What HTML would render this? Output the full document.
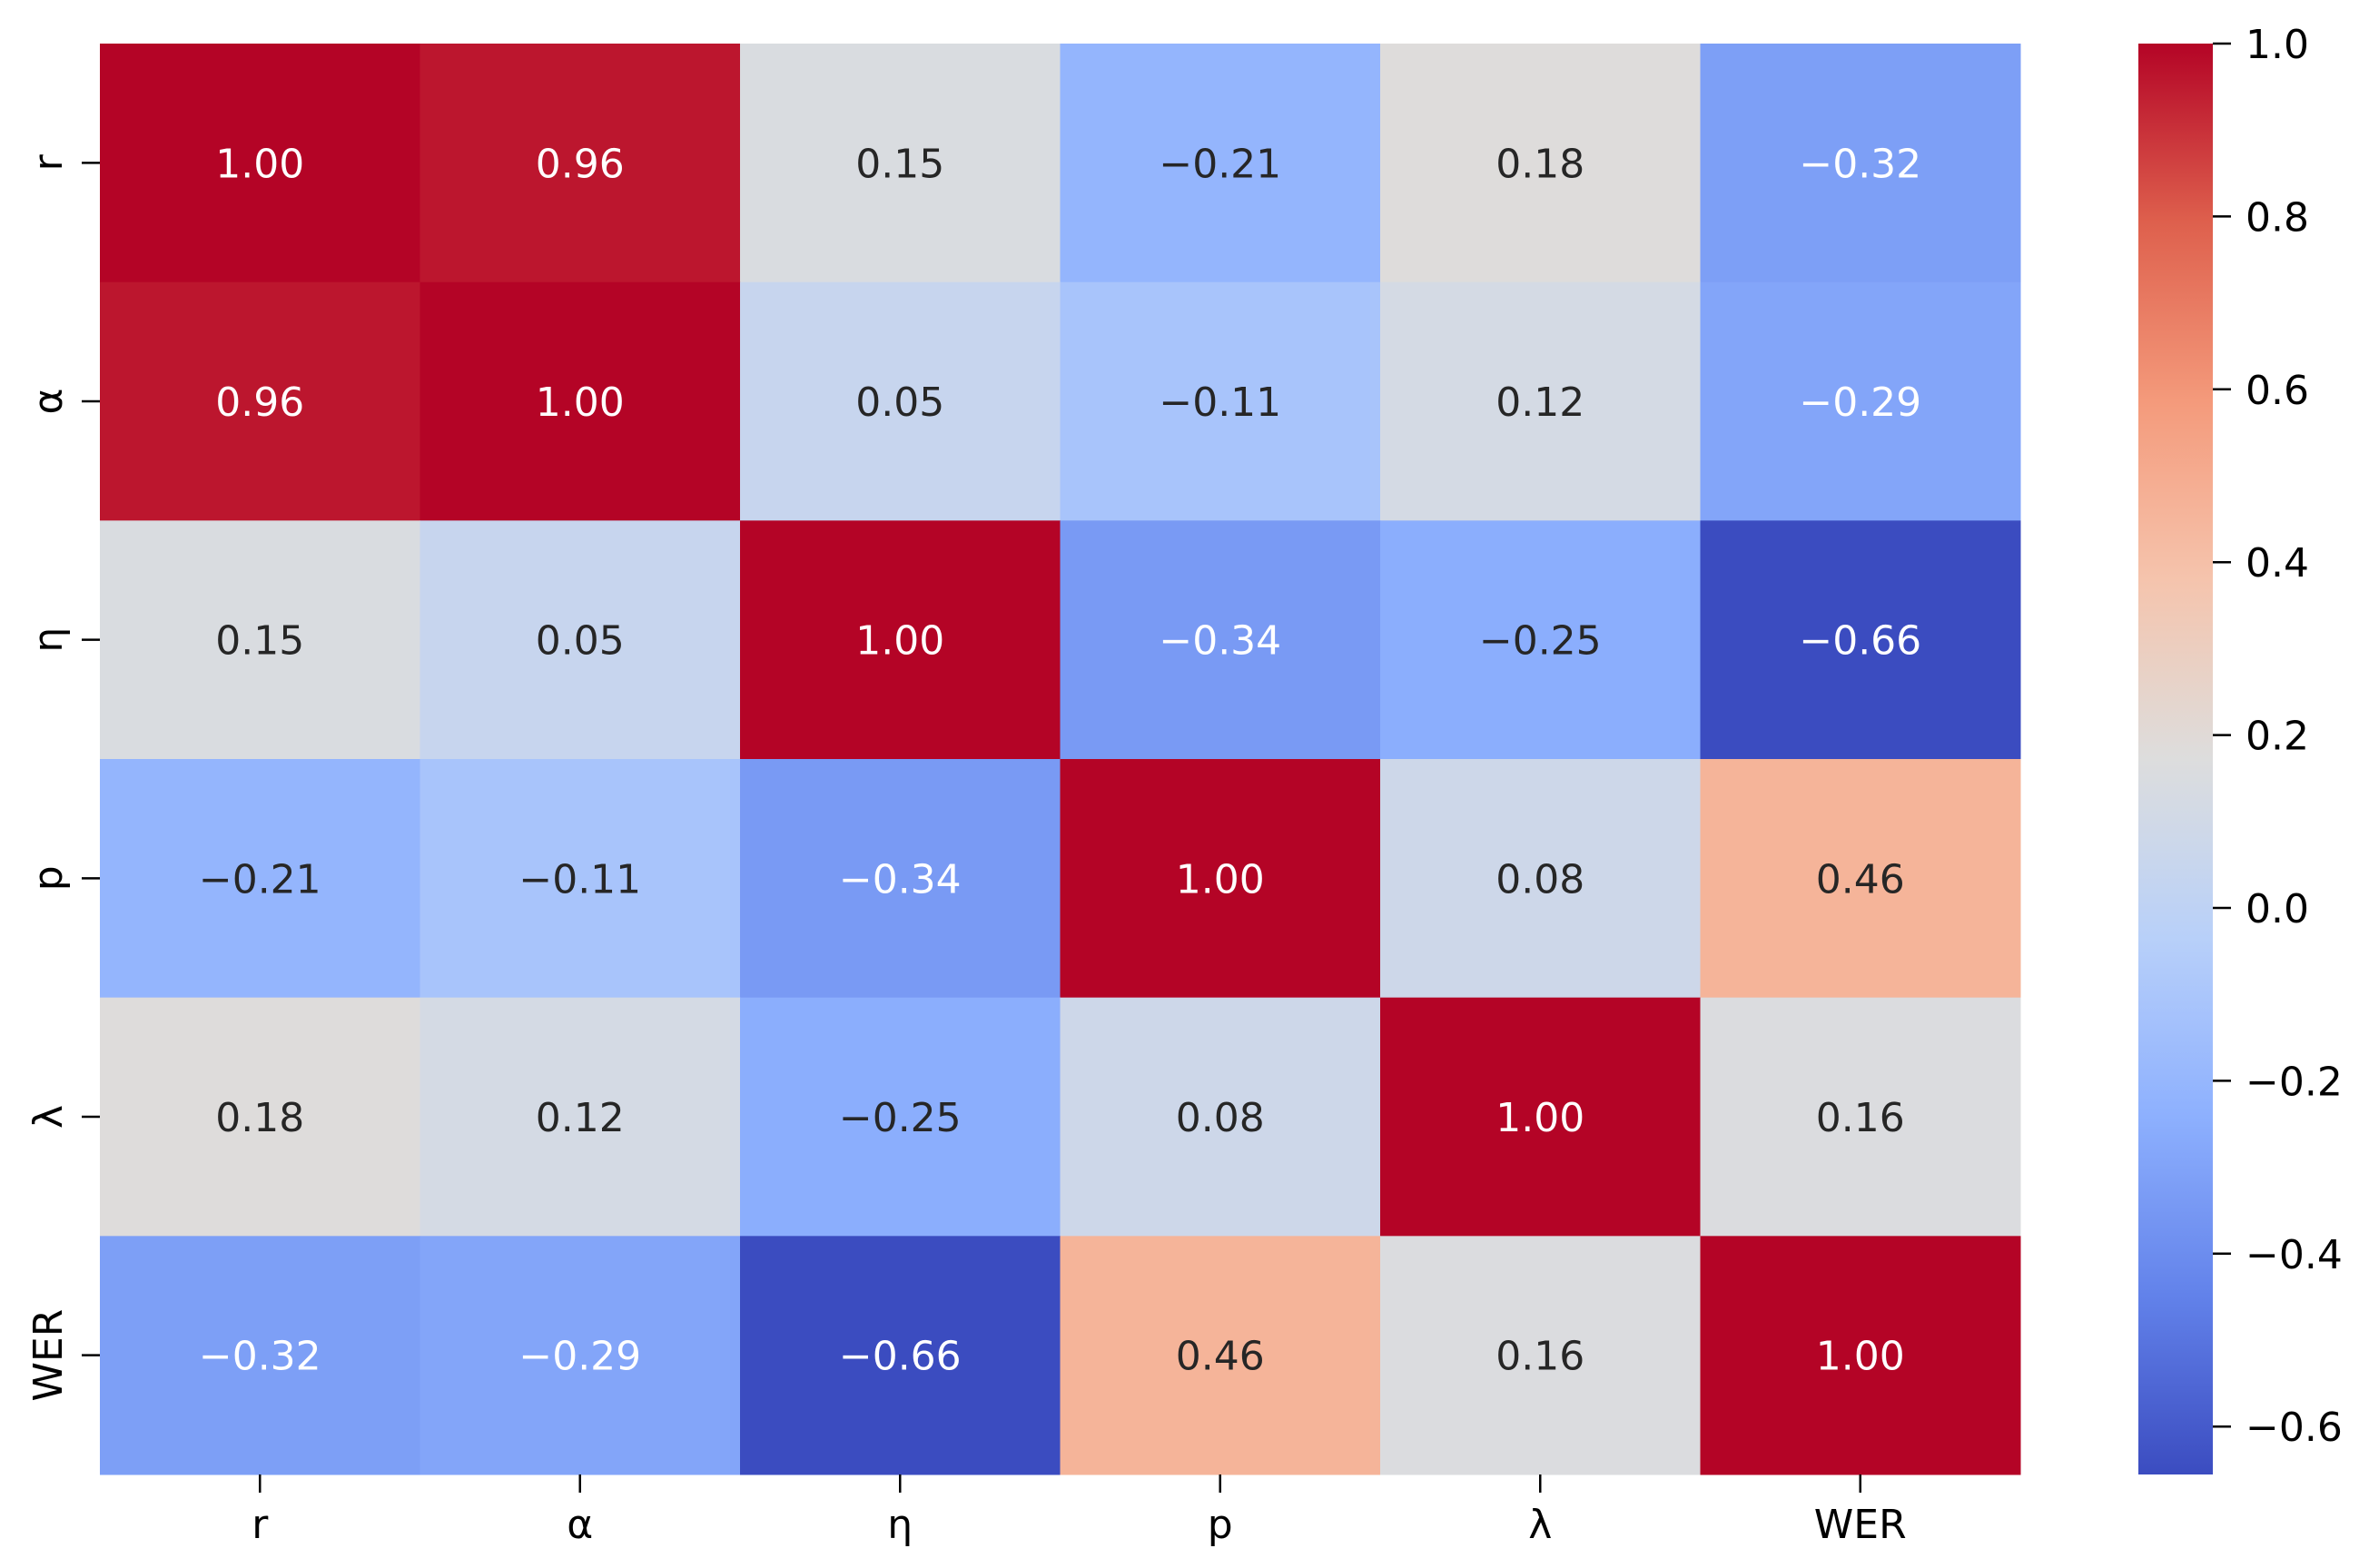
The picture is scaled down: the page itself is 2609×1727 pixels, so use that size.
<!DOCTYPE html>
<html><head><meta charset="utf-8">
<style>
html,body{margin:0;padding:0;background:#fff;}
svg text{font-family:"DejaVu Sans","Liberation Sans",sans-serif;}
</style></head>
<body>
<svg id="chart" width="2609" height="1722" xmlns="http://www.w3.org/2000/svg">
<defs>
<linearGradient id="cbgrad" x1="0" y1="1" x2="0" y2="0"></linearGradient>
</defs>
<g id="cells"></g>
<g id="annots"></g>
<g id="xaxis"></g>
<g id="yaxis"></g>
<g id="cbar"></g>
</svg>
<script>
const rowLabels = ["r","α","η","p","λ","WER"];
const colLabels = ["r","α","η","p","λ","WER"];
const row0 = [1.00, 0.96, 0.15, -0.21, 0.18, -0.32];
const row1 = [0.96, 1.00, 0.05, -0.11, 0.12, -0.29];
const row2 = [0.15, 0.05, 1.00, -0.34, -0.25, -0.66];
const row3 = [-0.21, -0.11, -0.34, 1.00, 0.08, 0.46];
const row4 = [0.18, 0.12, -0.25, 0.08, 1.00, 0.16];
const row5 = [-0.32, -0.29, -0.66, 0.46, 0.16, 1.00];
const matrix = [row0,row1,row2,row3,row4,row5];
const cbTicks = [1.0, 0.8, 0.6, 0.4, 0.2, 0.0, -0.2, -0.4, -0.6];

const NS="http://www.w3.org/2000/svg";
const L=110,T=48,R=2225,B=1624;
const CBL=2355,CBR=2437;
const vmax=1.0, vmin=1-(B-T)/952;
const cw=(R-L)/colLabels.length, ch=(B-T)/rowLabels.length;
const xCenter=i=>L+cw*(i+0.5);
const yCenter=j=>T+ch*(j+0.5);
const cbY=v=>T+(vmax-v)/(vmax-vmin)*(B-T);

const stops=[[59,76,192],[98,130,234],[141,176,254],[184,208,249],[221,221,221],[245,196,173],[244,154,123],[222,96,77],[180,4,38]];
function cmap(t){t=Math.max(0,Math.min(1,t));const p=t*8,i=Math.min(7,Math.floor(p)),f=p-i;
 return stops[i].map((c,k)=>Math.round(c+(stops[i+1][k]-c)*f));}
const rgb=c=>`rgb(${c[0]},${c[1]},${c[2]})`;
const norm=v=>(v-vmin)/(vmax-vmin);
function lum(c){const l=c.map(x=>{x/=255;return x<=0.03928?x/12.92:Math.pow((x+0.055)/1.055,2.4);});return 0.2126*l[0]+0.7152*l[1]+0.0722*l[2];}
function mk(tag,attrs,parent,text){const e=document.createElementNS(NS,tag);for(const k in attrs)e.setAttribute(k,attrs[k]);if(text!==undefined)e.textContent=text;parent.appendChild(e);return e;}
const fmt=v=>(v<0?"\u2212":"")+Math.abs(v).toFixed(2);

const gC=document.getElementById('cells'),gA=document.getElementById('annots');
matrix.forEach((row,j)=>row.forEach((v,i)=>{
 const c=cmap(norm(v));
 const r=mk('rect',{x:L+cw*i,y:T+ch*j,width:cw+0.5,height:ch+0.5,fill:rgb(c)},gC);
 
 
 const t=mk('text',{x:xCenter(i),y:yCenter(j)+16,'text-anchor':'middle','font-size':44,fill:lum(c)>0.408?'#262626':'#ffffff'},gA,fmt(v));
 
 
}));

const gX=document.getElementById('xaxis');
colLabels.forEach((lab,i)=>{
 const tk=mk('line',{x1:xCenter(i),x2:xCenter(i),y1:B,y2:B+20,stroke:'#000','stroke-width':2.5},gX);
 
 
 const t=mk('text',{x:xCenter(i),y:B+70,'text-anchor':'middle','font-size':44,fill:'#000'},gX,lab);
 
 
});
const gY=document.getElementById('yaxis');
rowLabels.forEach((lab,j)=>{
 const tk=mk('line',{x1:L-20,x2:L,y1:yCenter(j),y2:yCenter(j),stroke:'#000','stroke-width':2.5},gY);
 
 
 const t=mk('text',{x:0,y:0,'text-anchor':'middle','font-size':44,fill:'#000',transform:`translate(68,${yCenter(j)}) rotate(-90)`},gY,lab);
 
 
});

const grad=document.getElementById('cbgrad');
for(let k=0;k<=16;k++){mk('stop',{offset:(k/16),'stop-color':rgb(cmap(k/16))},grad);}
const gB=document.getElementById('cbar');
const bar=mk('rect',{x:CBL,y:T,width:CBR-CBL,height:B-T,fill:'url(#cbgrad)'},gB);


cbTicks.forEach(v=>{
 const y=cbY(v);
 const tk=mk('line',{x1:CBR,x2:CBR+20,y1:y,y2:y,stroke:'#000','stroke-width':2.5},gB);
 
 
 const t=mk('text',{x:2473,y:y+16,'font-size':44,fill:'#000'},gB,(v<0?"\u2212":"")+Math.abs(v).toFixed(1));
 
 
});
</script>
</body></html>
